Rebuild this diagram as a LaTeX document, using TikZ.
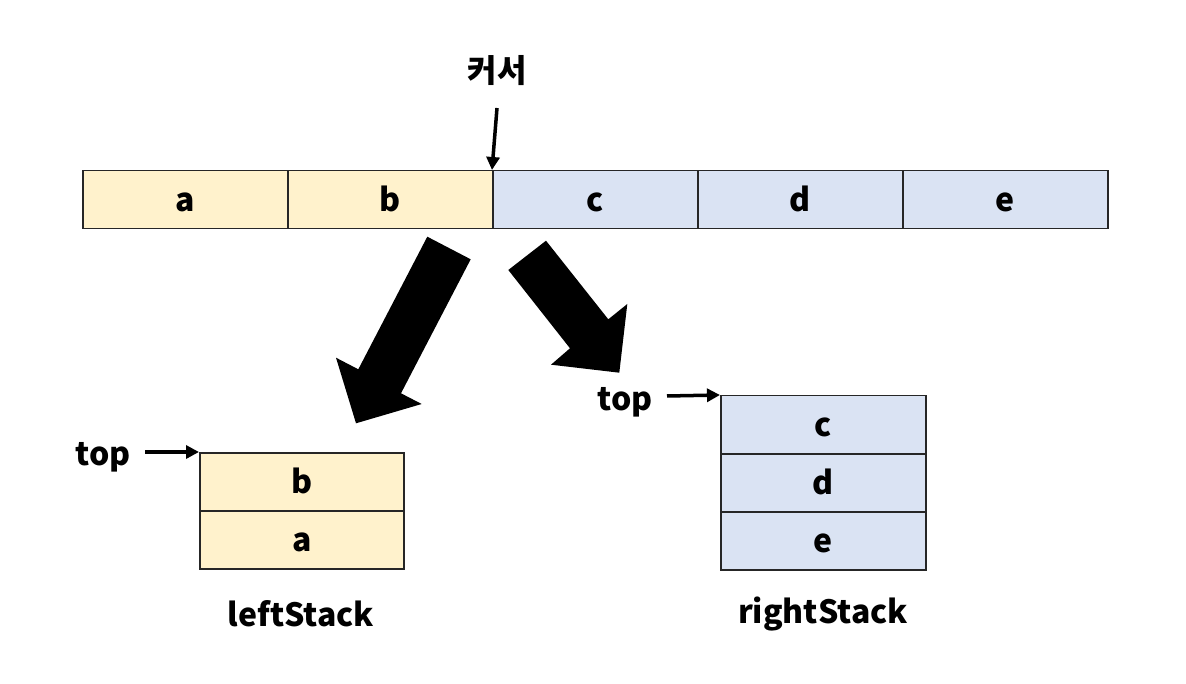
\documentclass[tikz,border=0pt]{standalone}
\usepackage{fontspec}
\setmainfont{Noto Sans CJK KR}
\usetikzlibrary{arrows.meta}
\definecolor{yel}{HTML}{FFF2CC}
\definecolor{blu}{HTML}{DAE3F3}
\tikzset{
  cellbox/.style={draw=black!85, line width=1.5pt, minimum width=205pt, minimum height=58pt, inner sep=0pt, text height=24pt, text depth=0pt, font=\bfseries\fontsize{32}{34}\selectfont, anchor=north west},
  lbl/.style={font=\bfseries\fontsize{32}{34}\selectfont, inner sep=0pt},
  ptr/.style={line width=3.5pt, -{Triangle[length=13pt,width=13pt]}},
  bigarrow/.style={fill=black, draw=none}
}
\begin{document}
\begin{tikzpicture}[x=1pt,y=-1pt]
\useasboundingbox (0,0) rectangle (1186,684);
% top bar
\node[cellbox, fill=yel] (ca) at (82,170) {a};
\node[cellbox, fill=yel] (cb) at (287,170) {b};
\node[cellbox, fill=blu] (cc) at (492,170) {c};
\node[cellbox, fill=blu] (cd) at (697,170) {d};
\node[cellbox, fill=blu] (ce) at (902,170) {e};
% cursor
\node[lbl] (cursor) at (497,71) {커서};
\coordinate (cstart) at (497,108);
\draw[ptr] (cstart) -- (cc.north west);
% big arrows
\fill[bigarrow] (427.3,236.7) -- (470.7,259.3) -- (401,393.3) -- (421.7,404) -- (356,423.3) -- (336,357.7) -- (358.3,369.3) -- cycle;
\fill[bigarrow] (508.3,270) -- (546,240.7) -- (608.3,319.3) -- (627.3,304) -- (619.3,372.7) -- (551,364.7) -- (570,348.3) -- cycle;
% left stack
\node[cellbox, fill=yel, minimum width=204pt] (lb) at (199,452) {b};
\node[cellbox, fill=yel, minimum width=204pt] (la) at (199,510) {a};
\node[lbl] (ltop) at (103,457) {top};
\coordinate (lts) at (145,452);
\draw[ptr] (lts) -- (lb.north west);
\node[lbl] (lname) at (301,614) {leftStack};
% right stack
\node[cellbox, fill=blu] (rc) at (720,395) {c};
\node[cellbox, fill=blu] (rd) at (720,453) {d};
\node[cellbox, fill=blu] (re) at (720,511) {e};
\node[lbl] (rtop) at (625,402) {top};
\coordinate (rts) at (667,396);
\draw[ptr] (rts) -- (rc.north west);
\node[lbl] (rname) at (823,614) {rightStack};
\end{tikzpicture}
\end{document}
